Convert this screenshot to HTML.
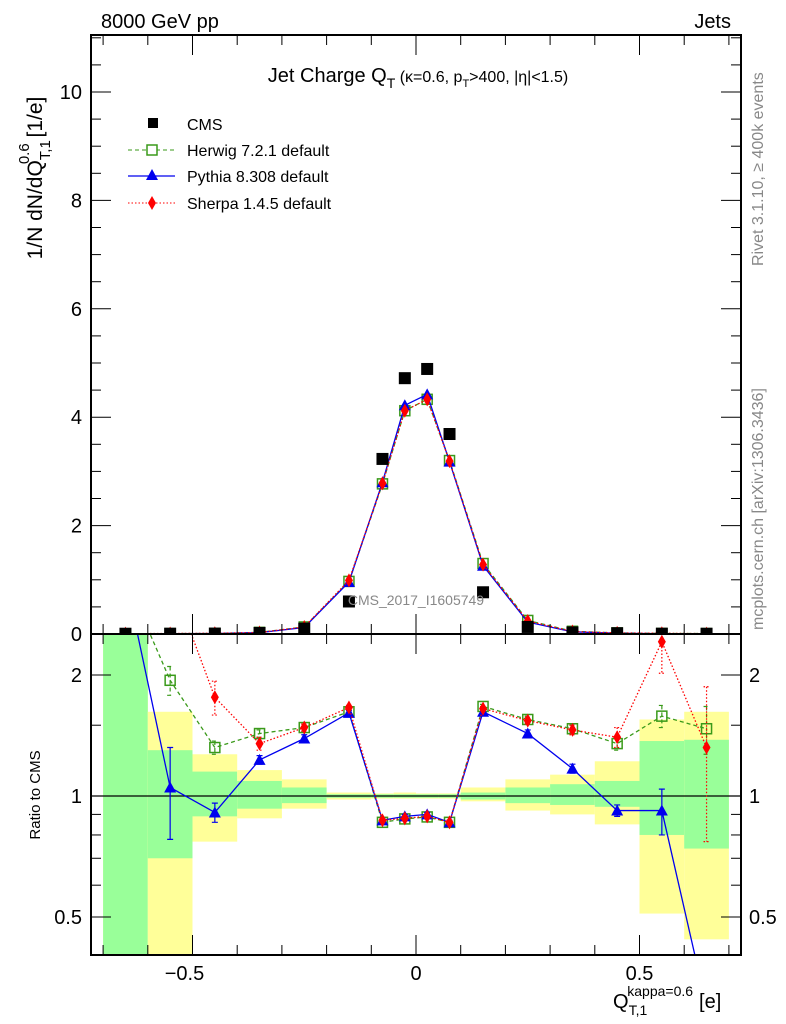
<!DOCTYPE html>
<html><head><meta charset="utf-8"><style>
html,body{margin:0;padding:0;background:#fff;width:786px;height:1024px;overflow:hidden;}
svg{display:block;font-family:"Liberation Sans",sans-serif;}
</style></head><body>
<svg id="chart" width="786" height="1024" viewBox="0 0 786 1024">
<g id="bands"></g>
<g id="marks"></g>
<g id="axes"></g>
<text x="101" y="28" font-size="20">8000 GeV pp</text>
<text x="731" y="28" font-size="20" text-anchor="end">Jets</text>
<text x="418" y="82" font-size="20" text-anchor="middle">Jet Charge Q<tspan font-size="14" dy="6">T</tspan><tspan font-size="16" dy="-6"> (κ=0.6, p</tspan><tspan font-size="11" dy="5">T</tspan><tspan font-size="16" dy="-5">&gt;400, |η|&lt;1.5)</tspan></text>
<text transform="translate(763,266) rotate(-90)" font-size="16" fill="#888">Rivet 3.1.10, ≥ 400k events</text>
<text transform="translate(763,630) rotate(-90)" font-size="16" fill="#888">mcplots.cern.ch [arXiv:1306.3436]</text>
<text x="416" y="605" font-size="14" fill="#888" text-anchor="middle">CMS_2017_I1605749</text>
<text transform="translate(42,178) rotate(-90)" font-size="21" text-anchor="middle">1/N dN/dQ<tspan font-size="15" dy="8">T,1</tspan><tspan font-size="15" dx="-24" dy="-21">0.6</tspan><tspan dy="13"> [1/e]</tspan></text>
<text transform="translate(40,795) rotate(-90)" font-size="15" text-anchor="middle">Ratio to CMS</text>
<text x="613" y="1008" font-size="20">Q<tspan font-size="14" dy="7">T,1</tspan><tspan font-size="14" dx="-20" dy="-19">kappa=0.6</tspan><tspan font-size="20" dx="6" dy="12">[e]</tspan></text>
<g>
<rect x="148" y="118" width="10" height="10" fill="#000"/>
<text x="187" y="130" font-size="16">CMS</text>
<line x1="128" y1="150" x2="175" y2="150" stroke="#3a9a1a" stroke-dasharray="4,3"/>
<rect x="147" y="145" width="10" height="10" fill="#fff" stroke="#3a9a1a" stroke-width="1.5"/>
<text x="187" y="156" font-size="16">Herwig 7.2.1 default</text>
<line x1="128" y1="176" x2="175" y2="176" stroke="#0000ee" stroke-width="1.3"/>
<polygon points="152,169 158,180 146,180" fill="#0000ee"/>
<text x="187" y="182" font-size="16">Pythia 8.308 default</text>
<line x1="128" y1="203" x2="175" y2="203" stroke="#f00" stroke-dasharray="1.5,2"/>
<polygon points="152,196 156,203 152,210 148,203" fill="#f00"/>
<text x="187" y="209" font-size="16">Sherpa 1.4.5 default</text>
</g>
</svg>
<script>
const binLo=[-0.7,-0.6,-0.5,-0.4,-0.3,-0.2,-0.1,-0.05,0,0.05,0.1,0.2,0.3,0.4,0.5,0.6];
const binHi=[-0.6,-0.5,-0.4,-0.3,-0.2,-0.1,-0.05,0,0.05,0.1,0.2,0.3,0.4,0.5,0.6,0.7];
const cms=[0.005,0.006,0.008,0.02,0.1,0.6,3.23,4.72,4.89,3.69,0.77,0.13,0.03,0.015,0.006,0.005];
const herwig=[0.005,0.007,0.01,0.03,0.13,0.97,2.77,4.12,4.33,3.2,1.3,0.25,0.05,0.02,0.01,0.008];
const pythia=[0.005,0.006,0.008,0.025,0.12,0.96,2.8,4.22,4.42,3.18,1.26,0.22,0.04,0.014,0.006,0.002];
const sherpa=[0.006,0.009,0.014,0.027,0.13,0.99,2.78,4.12,4.33,3.19,1.28,0.24,0.045,0.02,0.014,0.006];
const rHerwig=[3.5,1.94,1.32,1.43,1.48,1.62,0.86,0.877,0.887,0.86,1.67,1.55,1.47,1.35,1.58,1.47];
const rPythia=[3.5,1.05,0.91,1.23,1.39,1.61,0.87,0.89,0.9,0.86,1.62,1.43,1.17,0.92,0.92,0.3];
const rSherpa=[3.5,3.5,1.76,1.35,1.48,1.66,0.87,0.88,0.89,0.86,1.65,1.54,1.46,1.4,2.42,1.32];
const errHerwig=[0,0.16,0.05,0.03,0.03,0.02,0.01,0.01,0.01,0.01,0.02,0.03,0.03,0.05,0.1,0.2];
const errPythia=[0,0.27,0.05,0.03,0.03,0.02,0.01,0.01,0.01,0.01,0.02,0.03,0.03,0.03,0.12,0.1];
const errSherpa=[0,0.3,0.17,0.05,0.03,0.02,0.01,0.01,0.01,0.01,0.02,0.03,0.04,0.08,0.4,0.55];
const yelLo=[0.3,0.3,0.77,0.88,0.93,0.98,0.985,0.985,0.985,0.985,0.97,0.92,0.9,0.85,0.51,0.44];
const grnLo=[0.3,0.7,0.89,0.93,0.96,0.99,0.99,0.99,0.99,0.99,0.98,0.96,0.95,0.94,0.8,0.74];
const grnHi=[3,1.3,1.15,1.09,1.05,1.01,1.01,1.01,1.01,1.01,1.02,1.05,1.07,1.09,1.37,1.38];
const yelHi=[3,1.62,1.27,1.16,1.1,1.02,1.015,1.02,1.015,1.015,1.05,1.1,1.13,1.22,1.55,1.62];
const mainTicks=[0,2,4,6,8,10];
const ratioTicks=[0.5,1,2];
const xTicks=[-0.5,0,0.5];

const NS="http://www.w3.org/2000/svg";
const L=91,R=741,T=35,M=634,B=955;
const X=v=>416+447*v;
const Y=v=>M-54.2*v;
const RY=v=>796-402*Math.log10(Math.max(v,0.01));
const clampR=y=>Math.max(M,Math.min(B,y));
function mk(tag,attrs,parent){const e=document.createElementNS(NS,tag);for(const k in attrs)e.setAttribute(k,attrs[k]);document.getElementById(parent).appendChild(e);return e;}
const mids=binLo.map((l,i)=>(l+binHi[i])/2);

binLo.forEach((l,i)=>{
  const x1=X(l),x2=X(binHi[i]);
  let e=mk('rect',{x:x1,y:clampR(RY(yelHi[i])),width:x2-x1,height:clampR(RY(yelLo[i]))-clampR(RY(yelHi[i])),fill:'#ffff99'},'bands');
  
  
  e=mk('rect',{x:x1,y:clampR(RY(grnHi[i])),width:x2-x1,height:clampR(RY(grnLo[i]))-clampR(RY(grnHi[i])),fill:'#99ff99'},'bands');
  
  
});
mk('line',{x1:L,y1:RY(1),x2:R,y2:RY(1),stroke:'#000','stroke-width':1.3},'bands');

const defs=document.createElementNS(NS,'defs');
defs.innerHTML='<clipPath id="cm"><rect x="91" y="35" width="650" height="599"/></clipPath><clipPath id="cr"><rect x="91" y="634" width="650" height="321"/></clipPath>';
document.getElementById('chart').prepend(defs);
const gm=mk('g',{'clip-path':'url(#cm)'},'marks');gm.id='gm';
const gr=mk('g',{'clip-path':'url(#cr)'},'marks');gr.id='gr';

const series=[
 {name:'herwig',main:herwig,ratio:rHerwig,err:errHerwig,color:'#3a9a1a',dash:'4,3',m:'sq'},
 {name:'pythia',main:pythia,ratio:rPythia,err:errPythia,color:'#0000ee',dash:'',m:'tri'},
 {name:'sherpa',main:sherpa,ratio:rSherpa,err:errSherpa,color:'#ff0000',dash:'1.5,2',m:'dia'}];
function marker(type,x,y,c,g,name){
  let e;
  if(type==='sq')e=mk('rect',{x:x-5,y:y-5,width:10,height:10,fill:'none',stroke:c,'stroke-width':1.5},g);
  else if(type==='tri')e=mk('polygon',{points:`${x},${y-6} ${x+6},${y+5} ${x-6},${y+5}`,fill:c},g);
  else if(type==='dia')e=mk('polygon',{points:`${x},${y-7} ${x+4},${y} ${x},${y+7} ${x-4},${y}`,fill:c},g);
  else e=mk('rect',{x:x-6,y:y-6,width:12,height:12,fill:c},g);
  
  
}
series.forEach(s=>{
  let p=mk('polyline',{points:mids.map((m,i)=>X(m)+','+Y(s.main[i])).join(' '),fill:'none',stroke:s.color,'stroke-width':1.3,'stroke-dasharray':s.dash},'gm');
  
  
  p=mk('polyline',{points:mids.map((m,i)=>X(m)+','+RY(s.ratio[i])).join(' '),fill:'none',stroke:s.color,'stroke-width':1.3,'stroke-dasharray':s.dash},'gr');
  
  
  mids.forEach((m,i)=>{
    if(s.err[i]>0){const x=X(m),y1=RY(s.ratio[i]+s.err[i]),y2=RY(s.ratio[i]-s.err[i]);
      const e=mk('path',{d:`M${x},${y1}V${y2}M${x-3},${y1}H${x+3}M${x-3},${y2}H${x+3}`,stroke:s.color,'stroke-width':1.2,'stroke-dasharray':s.dash,fill:'none'},'gr');
      
      }
    marker(s.m,X(m),Y(s.main[i]),s.color,'gm',s.name+'-point');marker(s.m,X(m),RY(s.ratio[i]),s.color,'gr',s.name+'-ratio-point');});
});
mids.forEach((m,i)=>marker('cms',X(m),Y(cms[i]),'#000','gm','cms-point'));

const ax='axes';
mk('rect',{x:L,y:T,width:R-L,height:M-T,fill:'none',stroke:'#000','stroke-width':2},ax);
mk('rect',{x:L,y:M,width:R-L,height:B-M,fill:'none',stroke:'#000','stroke-width':2},ax);
for(let v=-0.7;v<=0.71;v+=0.1){
  const x=X(v),maj=Math.abs(Math.round(v*2)-v*2)<1e-6;const len=maj?20:10;
  [[T,1],[M,-1],[M,1],[B,-1]].forEach(([y,d])=>mk('line',{x1:x,y1:y,x2:x,y2:y+d*len,stroke:'#000'},ax));
}
for(let v=0;v<=11;v+=0.5){const y=Y(v);const len=(v%2===0)?20:10;
  mk('line',{x1:L,y1:y,x2:L+len,y2:y,stroke:'#000'},ax);mk('line',{x1:R,y1:y,x2:R-len,y2:y,stroke:'#000'},ax);}
mainTicks.forEach(v=>{const t=mk('text',{x:82,y:Y(v)+7,'font-size':20,'text-anchor':'end'},ax);t.textContent=v;
  
  });
[0.4,0.5,0.6,0.7,0.8,0.9,1,1.5,2].forEach(v=>{const y=RY(v);if(y<M||y>B)return;const len=ratioTicks.includes(v)?20:10;
  mk('line',{x1:L,y1:y,x2:L+len,y2:y,stroke:'#000'},ax);mk('line',{x1:R,y1:y,x2:R-len,y2:y,stroke:'#000'},ax);});
ratioTicks.forEach(v=>{
  let t=mk('text',{x:82,y:RY(v)+7,'font-size':20,'text-anchor':'end'},ax);t.textContent=v;
  
  
  t=mk('text',{x:749,y:RY(v)+7,'font-size':20},ax);t.textContent=v;
  
  });
xTicks.forEach(v=>{const t=mk('text',{x:X(v)-(v<0?8:0),y:980,'font-size':20,'text-anchor':'middle'},ax);t.textContent=v===0?'0':(v<0?'−0.5':'0.5');
  
  });
</script>
</body></html>
